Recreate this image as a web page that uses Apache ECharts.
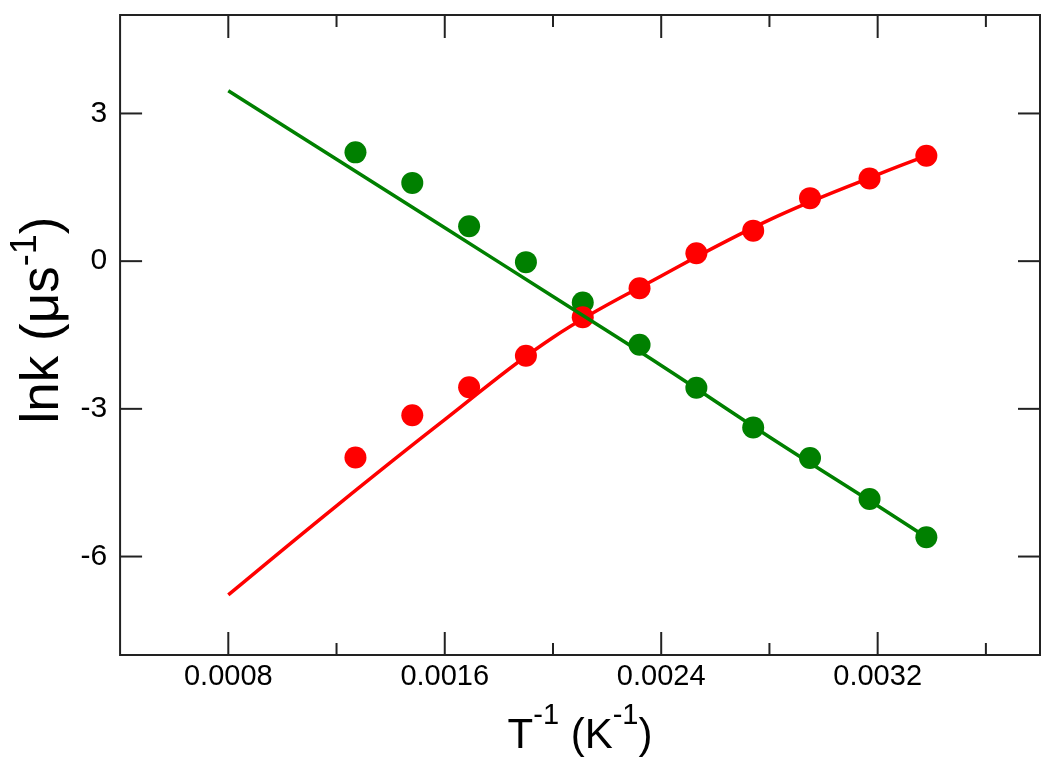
<!DOCTYPE html>
<html><head><meta charset="utf-8">
<script src="https://cdn.jsdelivr.net/npm/echarts@6/dist/echarts.min.js"></script>
<style>html,body{margin:0;padding:0;background:#fff}#chart{width:1050px;height:773px}</style>
</head><body><div id="chart"></div>
<script>
// axis extents and ticks
const xRange = [0.0004, 0.0038];
const yRange = [-8, 5];
const xMajorTicks = [0.0008, 0.0016, 0.0024, 0.0032];
const xMinorTicks = [0.0012, 0.0020, 0.0028, 0.0036];
const yMajorTicks = [-6, -3, 0, 3];

// measured points (T^-1, ln k)
const invT = [0.00127, 0.00148, 0.00169, 0.00190, 0.00211, 0.00232, 0.00253, 0.00274, 0.00295, 0.00317, 0.00338];
const greenPoints = [2.21, 1.59, 0.71, -0.02, -0.84, -1.70, -2.57, -3.38, -4.00, -4.83, -5.61];
const redPoints = [-3.99, -3.13, -2.56, -1.92, -1.14, -0.55, 0.16, 0.62, 1.28, 1.68, 2.14];

// fitted curves
const fitX = [0.0008, 0.0012, 0.0016, 0.0020, 0.0024, 0.0028, 0.0032, 0.00338];
const greenFit = [3.46, 2.07, 0.68, -0.72, -2.12, -3.57, -4.97, -5.61];
const redFit = [-6.78, -4.97, -3.22, -1.55, -0.30, 0.84, 1.76, 2.14];

const GREEN = '#008000', RED = '#ff0000', INK = '#222222';
const FONT = '"Liberation Sans", Arial, Helvetica, sans-serif';

function pairs(xs, ys) { return xs.map((x, i) => [x, ys[i]]); }

function tickSeries(values, axis, len) {
  return {
    type: 'custom', silent: true, clip: false, z: 6,
    data: values.map(v => axis === 'x' ? [v, yRange[0]] : [xRange[0], v]),
    renderItem: function (params, api) {
      const style = { stroke: INK, lineWidth: 2 };
      if (axis === 'x') {
        const v = api.value(0);
        const b = api.coord([v, yRange[0]]), t = api.coord([v, yRange[1]]);
        return { type: 'group', children: [
          { type: 'line', shape: { x1: b[0], y1: b[1], x2: b[0], y2: b[1] - len }, style: style },
          { type: 'line', shape: { x1: t[0], y1: t[1], x2: t[0], y2: t[1] + len }, style: style }
        ] };
      } else {
        const v = api.value(1);
        const l = api.coord([xRange[0], v]), r = api.coord([xRange[1], v]);
        return { type: 'group', children: [
          { type: 'line', shape: { x1: l[0], y1: l[1], x2: l[0] + len, y2: l[1] }, style: style },
          { type: 'line', shape: { x1: r[0], y1: r[1], x2: r[0] - len, y2: r[1] }, style: style }
        ] };
      }
    }
  };
}

const chart = echarts.init(document.getElementById('chart'), null, { renderer: 'canvas' });
chart.setOption({
  animation: false,
  backgroundColor: '#ffffff',
  textStyle: { fontFamily: FONT },
  grid: { left: 120, right: 10, top: 15, bottom: 118, show: true, borderColor: INK, borderWidth: 2, backgroundColor: 'transparent' },
  xAxis: {
    type: 'value', min: xRange[0], max: xRange[1], interval: 0.0004,
    axisLine: { show: false }, axisTick: { show: false }, splitLine: { show: false },
    axisLabel: {
      color: '#000', fontSize: 29, fontFamily: FONT, margin: 7, showMinLabel: false, showMaxLabel: false,
      formatter: v => (xMajorTicks.some(t => Math.abs(t - v) < 1e-9) ? v.toFixed(4) : '')
    },
    name: '{m|T}{s|-1}{m| (K}{s|-1}{m|)}',
    nameLocation: 'middle', nameGap: 46,
    nameTextStyle: {
      rich: {
        m: { fontSize: 42, fontFamily: FONT, color: '#000', lineHeight: 70 },
        s: { fontSize: 29, fontFamily: FONT, color: '#000', lineHeight: 29, verticalAlign: 'top' }
      }
    }
  },
  yAxis: {
    type: 'value', min: yRange[0], max: yRange[1], interval: 1,
    axisLine: { show: false }, axisTick: { show: false }, splitLine: { show: false },
    axisLabel: {
      color: '#000', fontSize: 30, fontFamily: FONT, margin: 13,
      formatter: v => (yMajorTicks.indexOf(v) >= 0 ? String(v) : '')
    },
    name: '{m|lnk (μs}{s|-1}{m|)}',
    nameLocation: 'middle', nameRotate: 90, nameGap: 42,
    nameTextStyle: {
      padding: [0, 0, 0, 30],
      rich: {
        m: { fontSize: 53, fontFamily: FONT, color: '#000', lineHeight: 70 },
        s: { fontSize: 36, fontFamily: FONT, color: '#000', lineHeight: 36, verticalAlign: 'top' }
      }
    }
  },
  series: [
    { name: 'green data', type: 'scatter', data: pairs(invT, greenPoints), symbol: 'circle', symbolSize: 22,
      itemStyle: { color: GREEN, opacity: 1 }, z: 2 },
    { name: 'red data', type: 'scatter', data: pairs(invT, redPoints), symbol: 'circle', symbolSize: 22,
      itemStyle: { color: RED, opacity: 1 }, z: 2 },
    { name: 'red fit', type: 'line', data: pairs(fitX, redFit), showSymbol: false, smooth: 0.4,
      lineStyle: { color: RED, width: 3.5 }, z: 3 },
    { name: 'green fit', type: 'line', data: pairs(fitX, greenFit), showSymbol: false, smooth: 0.4,
      lineStyle: { color: GREEN, width: 3.5 }, z: 3 },
    tickSeries(xMajorTicks, 'x', 23),
    tickSeries(xMinorTicks, 'x', 12),
    tickSeries(yMajorTicks, 'y', 22)
  ]
});
</script>
</body></html>
